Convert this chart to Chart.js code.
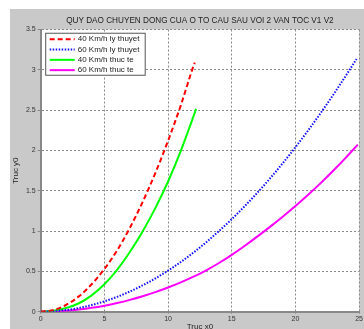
<!DOCTYPE html>
<html>
<head>
<meta charset="utf-8">
<script src="https://cdn.jsdelivr.net/npm/chart.js@4.4.1/dist/chart.umd.min.js"></script>
<style>
  html, body { margin: 0; padding: 0; background: #fff; }
  #frame { position: absolute; left: 10px; top: 9px; width: 354px; height: 320px; background: #c9c9c9; overflow: hidden; }
  canvas { display: block; }
</style>
</head>
<body>
<div id="frame"><canvas id="chart" width="354" height="320"></canvas></div>
<script>
// 40 km/h, ly thuyet
const x40LyThuyet = [0, 1, 2, 3, 4, 5, 6, 7, 8, 9, 10, 11, 12, 12.1];
const y40LyThuyet = [0, 0.021, 0.085, 0.19, 0.34, 0.53, 0.76, 1.04, 1.36, 1.72, 2.12, 2.56, 3.05, 3.09];

// 60 km/h, ly thuyet
const x60LyThuyet = [0, 1, 2, 3, 4, 5, 6, 7, 8, 9, 10, 11, 12, 13, 14, 15, 16, 17, 18, 19, 20, 21, 22, 23, 24, 24.8];
const y60LyThuyet = [0, 0.005, 0.02, 0.046, 0.082, 0.128, 0.184, 0.25, 0.326, 0.413, 0.51, 0.617, 0.734, 0.862, 1.0, 1.148, 1.306, 1.474, 1.652, 1.841, 2.04, 2.249, 2.468, 2.698, 2.938, 3.135];

// 40 km/h, thuc te
const x40ThucTe = [0, 1, 2, 3, 4, 5, 6, 7, 8, 9, 10, 11, 12, 12.2];
const y40ThucTe = [0, 0.012, 0.045, 0.105, 0.203, 0.34, 0.52, 0.74, 0.995, 1.285, 1.615, 1.995, 2.425, 2.515];

// 60 km/h, thuc te
const x60ThucTe = [0, 1, 2, 3, 4, 5, 6, 7, 8, 9, 10, 11, 12, 13, 14, 15, 16, 17, 18, 19, 20, 21, 22, 23, 24, 24.9];
const y60ThucTe = [0, 0.003, 0.012, 0.027, 0.048, 0.075, 0.108, 0.147, 0.192, 0.243, 0.30, 0.363, 0.434, 0.514, 0.604, 0.705, 0.815, 0.931, 1.052, 1.178, 1.31, 1.45, 1.598, 1.754, 1.918, 2.073];

const seriesLabels = ['40 Km/h ly thuyet', '60 Km/h ly thuyet', '40 Km/h thuc te', '60 Km/h thuc te'];
const chartTitle = 'QUY DAO CHUYEN DONG CUA O TO CAU SAU VOI 2 VAN TOC V1 V2';
const xAxisTitle = 'Truc x0';
const yAxisTitle = 'Truc y0';

const FONT = '"Liberation Sans", Arial, sans-serif';

function toPoints(xs, ys) {
    return xs.map((x, i) => ({ x: x, y: ys[i] }));
}

// nen trang cho vung ve
const plotBackground = {
    id: 'plotBackground',
    beforeDraw(chart) {
        const { ctx, chartArea } = chart;
        ctx.save();
        ctx.fillStyle = '#ffffff';
        ctx.fillRect(chartArea.left, chartArea.top, chartArea.right - chartArea.left, chartArea.bottom - chartArea.top);
        ctx.restore();
    }
};

// chu thich dat ben trong vung ve, goc tren trai
const insideLegend = {
    id: 'insideLegend',
    afterDatasetsDraw(chart) {
        const { ctx, chartArea } = chart;
        const x0 = chartArea.left + 4.5;
        const y0 = chartArea.top + 3.2;
        const w = 100.5, h = 43;
        ctx.save();
        ctx.fillStyle = '#ffffff';
        ctx.fillRect(x0, y0, w, h);
        ctx.strokeStyle = '#555555';
        ctx.lineWidth = 1;
        ctx.strokeRect(x0 + 0.5, y0 + 0.5, w - 1, h - 1);
        ctx.font = '8px ' + FONT;
        ctx.textBaseline = 'middle';
        chart.data.datasets.forEach((ds, i) => {
            const y = y0 + 6.5 + i * 10.3;
            ctx.strokeStyle = ds.borderColor;
            ctx.lineWidth = ds.borderWidth;
            ctx.setLineDash(ds.borderDash || []);
            ctx.beginPath();
            ctx.moveTo(x0 + 4.5, y);
            ctx.lineTo(x0 + 29.5, y);
            ctx.stroke();
            ctx.setLineDash([]);
            ctx.fillStyle = '#222222';
            ctx.fillText(ds.label, x0 + 32.5, y);
        });
        ctx.restore();
    }
};

const gridOpts = {
    color: '#8a8a8a',
    lineWidth: 1,
    tickLength: 3,
    tickColor: '#888888',
    tickBorderDash: []
};
const borderOpts = { display: true, color: '#888888', width: 2, dash: [2, 2] };

new Chart(document.getElementById('chart'), {
    type: 'line',
    data: {
        datasets: [
            {
                label: seriesLabels[0],
                data: toPoints(x40LyThuyet, y40LyThuyet),
                borderColor: '#ff0000',
                borderWidth: 2,
                borderDash: [5, 3]
            },
            {
                label: seriesLabels[1],
                data: toPoints(x60LyThuyet, y60LyThuyet),
                borderColor: '#1010ff',
                borderWidth: 2,
                borderDash: [1.5, 1.5]
            },
            {
                label: seriesLabels[2],
                data: toPoints(x40ThucTe, y40ThucTe),
                borderColor: '#00ff00',
                borderWidth: 2
            },
            {
                label: seriesLabels[3],
                data: toPoints(x60ThucTe, y60ThucTe),
                borderColor: '#ff00ff',
                borderWidth: 2
            }
        ]
    },
    options: {
        responsive: false,
        animation: false,
        layout: { padding: { top: 0, left: 0, right: 4.7, bottom: 0 } },
        elements: {
            point: { radius: 0 },
            line: { cubicInterpolationMode: 'monotone', fill: false }
        },
        plugins: {
            legend: { display: false },
            tooltip: { enabled: false },
            title: {
                display: true,
                text: chartTitle,
                fullSize: false,
                color: '#222222',
                font: { family: FONT, size: 8.2, weight: 'normal', lineHeight: 1.2 },
                padding: { top: 7, bottom: 3.7 }
            }
        },
        scales: {
            x: {
                type: 'linear',
                min: 0,
                max: 25,
                afterFit: s => { s.height = 17.3; },
                ticks: {
                    stepSize: 5,
                    color: '#333333',
                    padding: 1,
                    maxRotation: 0,
                    font: { family: FONT, size: 7 },
                    callback: v => String(v)
                },
                grid: Object.assign({}, gridOpts, { tickLength: 2 }),
                border: borderOpts,
                title: {
                    display: true,
                    text: xAxisTitle,
                    color: '#222222',
                    font: { family: FONT, size: 8, lineHeight: 1.2 },
                    padding: { top: 0, bottom: -2.5 }
                }
            },
            y: {
                type: 'linear',
                min: 0,
                max: 3.5,
                afterFit: s => { s.width = 30.7; },
                ticks: {
                    stepSize: 0.5,
                    color: '#333333',
                    padding: 2,
                    font: { family: FONT, size: 7 },
                    callback: v => String(v)
                },
                grid: gridOpts,
                border: borderOpts,
                title: {
                    display: true,
                    text: yAxisTitle,
                    color: '#222222',
                    font: { family: FONT, size: 8, lineHeight: 1.2 },
                    padding: { top: 0.9, bottom: 0 }
                }
            }
        }
    },
    plugins: [plotBackground, insideLegend]
});
</script>
</body>
</html>
